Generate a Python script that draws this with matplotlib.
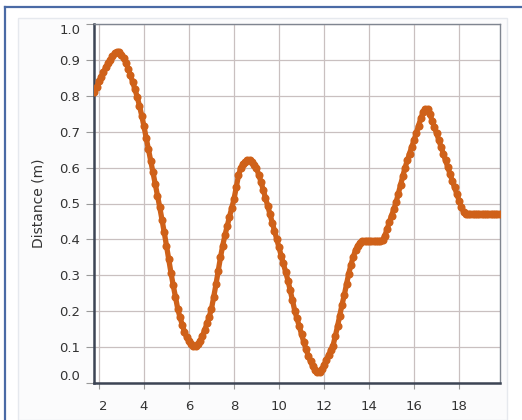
import numpy as np
import matplotlib
matplotlib.use("Agg")
import matplotlib.pyplot as plt
from matplotlib.patches import Rectangle
from matplotlib.lines import Line2D

# distance readings (m), sampled every 0.1 s starting at t = 1.8 s
t_start = 1.8
t_step = 0.1
distance = [
    0.810, 0.825, 0.840, 0.853, 0.866, 0.879, 0.890, 0.900, 0.910, 0.918,
    0.923, 0.922, 0.915, 0.904, 0.892, 0.875, 0.857, 0.838, 0.818, 0.797,
    0.772, 0.745, 0.715, 0.682, 0.651, 0.619, 0.587, 0.555, 0.522, 0.490,
    0.455, 0.420, 0.383, 0.345, 0.307, 0.272, 0.239, 0.207, 0.183, 0.162,
    0.142, 0.127, 0.116, 0.108, 0.104, 0.103, 0.108, 0.118, 0.132, 0.148,
    0.166, 0.185, 0.207, 0.240, 0.275, 0.313, 0.350, 0.383, 0.412, 0.438,
    0.463, 0.487, 0.512, 0.545, 0.578, 0.600, 0.610, 0.616, 0.620, 0.620,
    0.616, 0.608, 0.598, 0.580, 0.560, 0.538, 0.515, 0.493, 0.470, 0.447,
    0.424, 0.400, 0.378, 0.355, 0.333, 0.310, 0.285, 0.258, 0.230, 0.201,
    0.180, 0.158, 0.136, 0.114, 0.094, 0.076, 0.060, 0.046, 0.036, 0.031,
    0.031, 0.038, 0.050, 0.064, 0.078, 0.091, 0.104, 0.130, 0.158, 0.188,
    0.218, 0.245, 0.275, 0.305, 0.330, 0.352, 0.370, 0.383, 0.391, 0.395,
    0.395, 0.395, 0.395, 0.395, 0.395, 0.395, 0.395, 0.395, 0.398, 0.410,
    0.428, 0.448, 0.466, 0.484, 0.503, 0.527, 0.552, 0.576, 0.600, 0.620,
    0.639, 0.658, 0.677, 0.696, 0.716, 0.737, 0.754, 0.763, 0.763, 0.750,
    0.731, 0.713, 0.696, 0.677, 0.658, 0.639, 0.620, 0.601, 0.582, 0.563,
    0.545, 0.527, 0.508, 0.490, 0.477, 0.471, 0.470, 0.470, 0.470, 0.470,
    0.470, 0.470, 0.470, 0.470, 0.470, 0.470, 0.470, 0.470, 0.470, 0.470,
    0.470,
]
time = t_start + t_step * np.arange(len(distance))

x_ticks = [2, 4, 6, 8, 10, 12, 14, 16, 18]
y_ticks = [0.0, 0.1, 0.2, 0.3, 0.4, 0.5, 0.6, 0.7, 0.8, 0.9, 1.0]

orange = "#cf6119"

fig = plt.figure(figsize=(5.22, 4.2), dpi=100)
fig.patch.set_facecolor("white")

# faint panel behind the chart and the blue outer frame
fig.patches.append(Rectangle((18 / 522, 0), 489 / 522, 1 - 18 / 420,
                             transform=fig.transFigure, facecolor="#fbfbfc",
                             edgecolor="#e6e9ee", lw=1, zorder=-10))
fig.lines.append(Line2D([5 / 522, 1], [1 - 7 / 420, 1 - 7 / 420],
                        transform=fig.transFigure, color="#4a6aa5", lw=1.6))
fig.lines.append(Line2D([5 / 522, 5 / 522], [0, 1 - 7 / 420],
                        transform=fig.transFigure, color="#4a6aa5", lw=1.6))

ax = fig.add_axes([94 / 522, 1 - 383 / 420, 406 / 522, 359 / 420])
ax.set_facecolor("white")

ax.plot(time, distance, color=orange, lw=3.8, marker="o", ms=5.8,
        markeredgewidth=0, zorder=3)

ax.set_xlim(1.78, 19.82)
ax.set_ylim(0.0, 1.0)
ax.set_xticks(x_ticks)
ax.set_yticks(y_ticks)
ax.set_yticklabels([f"{v:.1f}" for v in y_ticks])
ax.grid(True, color="#c9c0c0", lw=0.9)
ax.set_axisbelow(True)

for lbl in ax.get_yticklabels():
    if lbl.get_text() == "0.0":
        lbl.set_verticalalignment("bottom")
    elif lbl.get_text() == "1.0":
        lbl.set_verticalalignment("top")
ax.get_xticklabels()[0].set_horizontalalignment("left")

ax.tick_params(axis="both", labelsize=9.5, colors="#333333", width=0.8)
ax.tick_params(axis="y", length=6, pad=4)
ax.tick_params(axis="x", length=4, pad=8)
ax.tick_params(axis="both", color="#999999")
for side in ["left", "bottom"]:
    ax.spines[side].set_color("#3c4454")
    ax.spines[side].set_linewidth(1.8)
for side in ["top", "right"]:
    ax.spines[side].set_color("#7f8590")
    ax.spines[side].set_linewidth(1.0)

ax.set_ylabel("Distance (m)", fontsize=10, color="#333333", labelpad=10)
ax.set_xlabel("Time (s)", fontsize=10, color="#333333", labelpad=11)

fig.savefig("out.png", dpi=100)
